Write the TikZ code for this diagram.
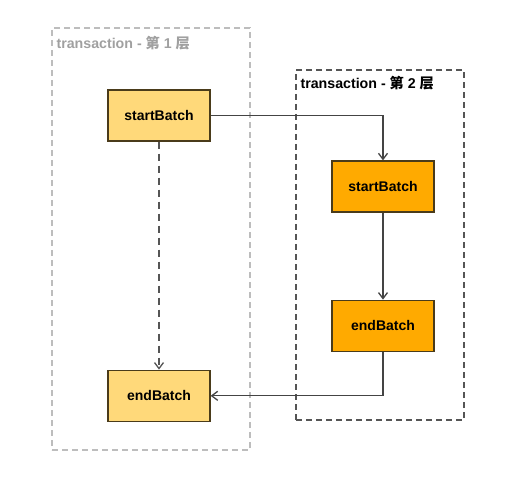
\documentclass[tikz,border=0pt]{standalone}
\usepackage{fontspec}
\setmainfont{Liberation Sans}
\newfontfamily\cjk{Noto Sans CJK SC}
\usetikzlibrary{positioning,arrows.meta}
\definecolor{TXlight}{HTML}{FFD97A}
\definecolor{TXorange}{HTML}{FFAA00}
\definecolor{TXedge}{HTML}{4A3B1A}
\definecolor{TXgrey}{HTML}{BDBDBD}
\definecolor{TXgreytext}{HTML}{A0A0A0}
\definecolor{TXdark}{HTML}{555555}
\definecolor{TXline}{HTML}{444444}
\tikzset{
  x=1pt, y=1pt,
  batchbox/.style={draw=TXedge, line width=1.3pt, minimum width=102pt, minimum height=51pt, font=\fontsize{14}{16}\selectfont\bfseries, text=black, inner sep=0pt},
  outerbatch/.style={batchbox, fill=TXlight},
  innerbatch/.style={batchbox, fill=TXorange},
  layerbox/.style={dashed, dash pattern=on 6pt off 4pt, line width=1.3pt, inner sep=0pt},
  layerlabel/.style={anchor=north west, font=\fontsize{14.2}{16}\selectfont\bfseries, inner sep=0pt},
  flowarr/.style={-{Straight Barb[length=6pt, width=9pt]}, line width=1.3pt, draw=TXline}
}
\begin{document}
\begin{tikzpicture}
\useasboundingbox (0,0) rectangle (519,-481);
% transaction layers
\node[layerbox, draw=TXgrey, minimum width=198pt, minimum height=422pt] (layer1) at (151,-239) {};
\node[layerbox, draw=TXdark, minimum width=168pt, minimum height=350pt] (layer2) at (380,-245) {};
\node[layerlabel, text=TXgreytext, below right=9pt and 5pt of layer1.north west] (label1) {transaction - {\cjk 第} 1 {\cjk 层}};
\node[layerlabel, text=black, below right=7pt and 5pt of layer2.north west] (label2) {transaction - {\cjk 第} 2 {\cjk 层}};
% batches
\node[outerbatch] (start1) at (159,-115.5) {startBatch};
\node[outerbatch, below=228pt of start1] (end1) {endBatch};
\node[innerbatch] (start2) at (383,-186.5) {startBatch};
\node[innerbatch, below=87pt of start2] (end2) {endBatch};
% connectors
\draw[flowarr] (start1.east) -| (start2.north);
\draw[flowarr] (start2.south) -- (end2.north);
\draw[flowarr] (end2.south) |- (end1.east);
\draw[flowarr, draw=TXdark, dashed, dash pattern=on 7pt off 5pt] (start1.south) -- (end1.north);
\end{tikzpicture}
\end{document}
